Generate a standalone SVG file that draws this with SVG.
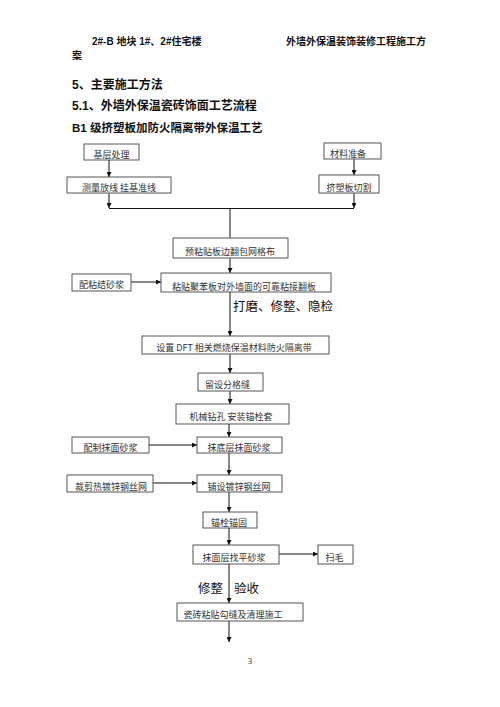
<svg xmlns="http://www.w3.org/2000/svg" width="500" height="707" viewBox="0 0 500 707">
<style>
.h{font-family:"Liberation Sans","Noto Sans CJK SC",sans-serif;font-weight:bold;fill:#111}
.box{fill:#fff;stroke:#555;stroke-width:1}
.bt{font-family:"Noto Sans CJK SC","Liberation Sans",sans-serif;font-size:9px;fill:#333}
.ln{stroke:#111;stroke-width:1;fill:none}
.lb{font-family:"Noto Sans CJK SC",sans-serif;font-size:12.5px;fill:#111}
</style>
<defs>
<marker id="ah" viewBox="0 0 10 10" refX="10" refY="5" markerWidth="5" markerHeight="5" orient="auto" markerUnits="userSpaceOnUse">
<path d="M0,0 L10,5 L0,10 z" fill="#111"/>
</marker>
</defs>
<rect width="500" height="707" fill="#fff"/>
<g id="header">
<text class="h" x="92" y="45" font-size="10">2#-B 地块 1#、2#住宅楼</text>
<text class="h" x="286" y="45" font-size="10">外墙外保温装饰装修工程施工方</text>
<text class="h" x="72" y="59" font-size="10">案</text>
<text class="h" x="72" y="89" font-size="12">5、主要施工方法</text>
<text class="h" x="72" y="110" font-size="12">5.1、外墙外保温瓷砖饰面工艺流程</text>
<text class="h" x="72" y="132" font-size="11.5">B1 级挤塑板加防火隔离带外保温工艺</text>
</g>
<g id="connectors">
<line class="ln" x1="109" y1="160" x2="109" y2="177" marker-end="url(#ah)"/>
<line class="ln" x1="109" y1="193" x2="109" y2="208" marker-end="url(#ah)"/>
<line class="ln" x1="354" y1="159" x2="354" y2="175" marker-end="url(#ah)"/>
<line class="ln" x1="354" y1="193" x2="354" y2="208" marker-end="url(#ah)"/>
<line class="ln" x1="109" y1="208.5" x2="354" y2="208.5"/>
<line class="ln" x1="230" y1="208" x2="230" y2="238"/>
<line class="ln" x1="230" y1="258" x2="230" y2="273" marker-end="url(#ah)"/>
<line class="ln" x1="131" y1="282" x2="161" y2="282" marker-end="url(#ah)"/>
<line class="ln" x1="230" y1="292" x2="230" y2="336" marker-end="url(#ah)"/>
<line class="ln" x1="230" y1="354" x2="230" y2="373" marker-end="url(#ah)"/>
<line class="ln" x1="230" y1="391" x2="230" y2="404" marker-end="url(#ah)"/>
<line class="ln" x1="229" y1="424" x2="229" y2="437" marker-end="url(#ah)"/>
<line class="ln" x1="149" y1="445" x2="197" y2="445" marker-end="url(#ah)"/>
<line class="ln" x1="229" y1="453" x2="229" y2="475" marker-end="url(#ah)"/>
<line class="ln" x1="153" y1="483" x2="197" y2="483" marker-end="url(#ah)"/>
<line class="ln" x1="229" y1="492" x2="229" y2="512" marker-end="url(#ah)"/>
<line class="ln" x1="229" y1="528" x2="229" y2="545" marker-end="url(#ah)"/>
<line class="ln" x1="279" y1="554" x2="318" y2="554" marker-end="url(#ah)"/>
<line class="ln" x1="229" y1="564" x2="229" y2="603" marker-end="url(#ah)"/>
<line class="ln" x1="229" y1="621" x2="229" y2="642" marker-end="url(#ah)"/>
<text class="lb" x="233" y="311">打磨、修整、隐检</text>
<text class="lb" x="198" y="593">修整</text>
<text class="lb" x="234" y="593">验收</text>
</g>
<g id="n-jiceng"><rect class="box" x="84" y="144" width="55" height="16"/><text class="bt" x="111.5" y="158" text-anchor="middle">基层处理</text></g>
<g id="n-celiang"><rect class="box" x="67" y="177" width="104" height="16"/><text class="bt" x="119" y="191" text-anchor="middle">测量放线  挂基准线</text></g>
<g id="n-cailiao"><rect class="box" x="324" y="143" width="57" height="16"/><text class="bt" x="348" y="157" text-anchor="middle">材料准备</text></g>
<g id="n-qiege"><rect class="box" x="319" y="175" width="60" height="18"/><text class="bt" x="349" y="191" text-anchor="middle">挤塑板切割</text></g>
<g id="n-fanbao"><rect class="box" x="173" y="238" width="115" height="20"/><text class="bt" x="230" y="255" text-anchor="middle">预粘贴板边翻包网格布</text></g>
<g id="n-peinian"><rect class="box" x="72" y="274" width="59" height="17"/><text class="bt" x="101.5" y="287.5" text-anchor="middle" font-size="9.5">配粘结砂浆</text></g>
<g id="n-zhantie"><rect class="box" x="161" y="273" width="170" height="19"/><text class="bt" x="244" y="290" text-anchor="middle">粘贴聚苯板对外墙面的可靠粘接翻板</text></g>
<g id="n-gelidai"><rect class="box" x="142" y="336" width="187" height="18"/><text class="bt" x="234" y="351" text-anchor="middle">设置 DFT 相关燃烧保温材料防火隔离带</text></g>
<g id="n-fengefeng"><rect class="box" x="198" y="373" width="65" height="18"/><text class="bt" x="205" y="388" font-size="7">留设分格缝</text></g>
<g id="n-zuankong"><rect class="box" x="176" y="404" width="113" height="20"/><text class="bt" x="231" y="420" text-anchor="middle">机械钻孔  安装锚栓套</text></g>
<g id="n-peizhi"><rect class="box" x="72" y="437" width="77" height="16"/><text class="bt" x="110.5" y="451" text-anchor="middle">配制抹面砂浆</text></g>
<g id="n-didi"><rect class="box" x="197" y="437" width="85" height="16"/><text class="bt" x="239" y="451" text-anchor="middle">抹底层抹面砂浆</text></g>
<g id="n-caijian"><rect class="box" x="67" y="475" width="86" height="17"/><text class="bt" x="111" y="489.5" text-anchor="middle">裁剪热镀锌钢丝网</text></g>
<g id="n-puse"><rect class="box" x="197" y="475" width="85" height="17"/><text class="bt" x="239" y="489.5" text-anchor="middle">铺设镀锌钢丝网</text></g>
<g id="n-maogu"><rect class="box" x="203" y="512" width="54" height="16"/><text class="bt" x="229" y="526" text-anchor="middle">锚栓锚固</text></g>
<g id="n-zhaoping"><rect class="box" x="193" y="545" width="86" height="19"/><text class="bt" x="234" y="561" text-anchor="middle">抹面层找平砂浆</text></g>
<g id="n-saomao"><rect class="box" x="318" y="545" width="35" height="19"/><text class="bt" x="334.5" y="561" text-anchor="middle">扫毛</text></g>
<g id="n-cizhuan"><rect class="box" x="177" y="603" width="126" height="18"/><text class="bt" x="233" y="618" text-anchor="middle">瓷砖粘贴勾缝及清理施工</text></g>
<text x="250" y="664" font-family="Liberation Serif,serif" font-size="8" text-anchor="middle" fill="#222">3</text>
</svg>
